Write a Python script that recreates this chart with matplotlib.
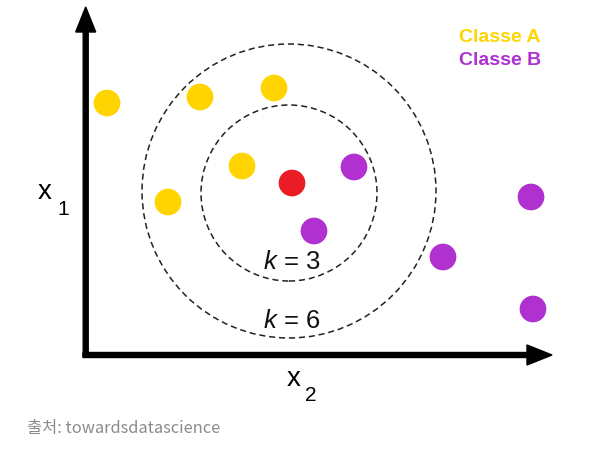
import matplotlib
matplotlib.use('Agg')
import matplotlib.pyplot as plt
from matplotlib.patches import Circle

plt.rcParams['font.family'] = ['Liberation Sans', 'DejaVu Sans']
plt.rcParams['mathtext.fontset'] = 'custom'
plt.rcParams['mathtext.it'] = 'Liberation Sans:italic'
plt.rcParams['mathtext.rm'] = 'Liberation Sans'

#==============================================================================
# DATA (x2 = horizontal, x1 = vertical, origin at the axes corner)
#==============================================================================

class_a_x2 = [22, 115, 189, 157, 83]
class_a_x1 = [252, 258, 267, 189, 153]

class_b_x2 = [269, 229, 358, 446, 448]
class_b_x1 = [188, 124, 98, 158, 46]

query_x2 = [207]
query_x1 = [172]

k_values   = [3, 6]
k_centers  = [(204, 162), (204, 164)]
k_radii    = [88, 147]

COL_A   = '#FFD400'
COL_B   = '#B030D0'
COL_Q   = '#EC1C24'

#==============================================================================
# FIGURE
#==============================================================================

fig = plt.figure(figsize=(5.89, 4.5), dpi=100)
ax = fig.add_axes([0, 0, 1, 1])
ax.set_xlim(-85, 504)
ax.set_ylim(-95, 355)
ax.axis('off')

# axes arrows
ax.arrow(0.7, -2, 0, 350, width=5, head_width=20, head_length=25,
         length_includes_head=True, color='black', zorder=3)
ax.arrow(-2, 0, 469, 0, width=5, head_width=20, head_length=25,
         length_includes_head=True, color='black', zorder=3)

# neighbourhood circles
for (cx, cy), r in zip(k_centers, k_radii):
    ax.add_patch(Circle((cx, cy), r, fill=False, edgecolor='#222222',
                        linewidth=1.1, linestyle=(0, (4, 2.5)), zorder=1))

ax.text(207, 93, '$k$ = %d' % k_values[0], fontsize=18.5, ha='center',
        va='center', color='#111111')
ax.text(207, 34, '$k$ = %d' % k_values[1], fontsize=18.5, ha='center',
        va='center', color='#111111')

# points
ms = 370
ax.scatter(class_a_x2, class_a_x1, s=ms, color=COL_A, edgecolor='none', zorder=2)
ax.scatter(class_b_x2, class_b_x1, s=ms, color=COL_B, edgecolor='none', zorder=2)
ax.scatter(query_x2, query_x1, s=ms, color=COL_Q, edgecolor='none', zorder=2)

# axis labels
ax.text(-47, 156, 'x', fontsize=20, ha='left', va='baseline')
ax.text(-28, 140, '1', fontsize=15, ha='left', va='baseline')
ax.text(202, -31, 'x', fontsize=20, ha='left', va='baseline')
ax.text(220, -46, '2', fontsize=15, ha='left', va='baseline')

# legend
ax.text(374, 313, 'Classe A', fontsize=14, fontweight='bold', color=COL_A,
        ha='left', va='baseline')
ax.text(374, 290, 'Classe B', fontsize=14, fontweight='bold', color=COL_B,
        ha='left', va='baseline')

# source caption
ax.text(-58, -78, '출처: towardsdatascience', fontsize=11.8, color='#8a8a8a',
        ha='left', va='baseline', family=['Noto Sans CJK KR', 'DejaVu Sans'])

fig.savefig('out.png', dpi=100)
